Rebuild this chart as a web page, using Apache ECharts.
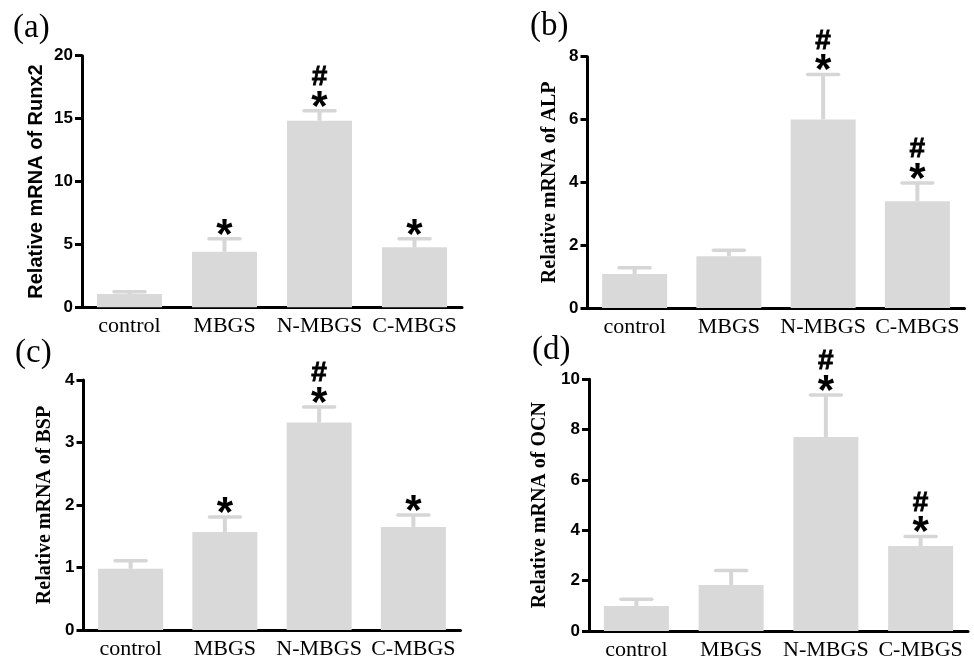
<!DOCTYPE html>
<html>
<head>
<meta charset="utf-8">
<script src="https://cdn.jsdelivr.net/npm/echarts@6/dist/echarts.min.js"></script>
<style>
html,body{margin:0;padding:0;background:#fff;}
#chart{width:974px;height:661px;}
</style>
</head>
<body>
<div id="chart"></div>
<script>
// ---- data ----
const categories = ['control', 'MBGS', 'N-MBGS', 'C-MBGS'];

const runx2Values = [1.05, 4.42, 14.83, 4.77];
const runx2Errors = [0.18, 1.03, 0.80, 0.68];
const runx2Marks  = ['', '*', '*#', '*'];

const alpValues = [1.08, 1.65, 6.00, 3.40];
const alpErrors = [0.20, 0.19, 1.43, 0.58];
const alpMarks  = ['', '', '*#', '*#'];

const bspValues = [0.98, 1.57, 3.32, 1.65];
const bspErrors = [0.13, 0.24, 0.25, 0.19];
const bspMarks  = ['', '*', '*#', '*'];

const ocnValues = [0.99, 1.83, 7.71, 3.38];
const ocnErrors = [0.27, 0.57, 1.67, 0.37];
const ocnMarks  = ['', '', '*#', '*#'];

const yTitles = ['Relative mRNA of Runx2', 'Relative mRNA of ALP', 'Relative mRNA of BSP', 'Relative mRNA of OCN'];
const yMax = [20, 8, 4, 10];
const yInterval = [5, 2, 1, 2];
const panelLabels = ['(a)', '(b)', '(c)', '(d)'];

// ---- layout / style ----
const SANS = '"Liberation Sans", Arial, sans-serif';
const SERIF = '"Liberation Serif", "Times New Roman", serif';
const BAR = '#d9d9d9';
const ERR = '#d6d6d6';

const grids = [
  {left: 82,    top: 55.7,  width: 380, height: 251.6},
  {left: 587.5, top: 56.7,  width: 377, height: 251.3},
  {left: 83.5,  top: 380,   width: 377, height: 250},
  {left: 589,   top: 379.3, width: 379, height: 251.7}
];
const nameGaps = [36, 27.5, 29, 39];
const titleFonts = [SANS, SERIF, SERIF, SERIF];
const labelPos = [[13, 12], [530, 10], [15, 337], [532, 334]];

const panels = [
  {values: runx2Values, errors: runx2Errors, marks: runx2Marks},
  {values: alpValues, errors: alpErrors, marks: alpMarks},
  {values: bspValues, errors: bspErrors, marks: bspMarks},
  {values: ocnValues, errors: ocnErrors, marks: ocnMarks}
];

function makeRenderer(marks) {
  return function (params, api) {
    const i = api.value(0), v = api.value(1), e = api.value(2);
    const top = api.coord([i, v]);
    const cap = api.coord([i, v + e]);
    const children = [
      {type: 'line', shape: {x1: top[0], y1: top[1], x2: cap[0], y2: cap[1]},
       style: {stroke: ERR, lineWidth: 4}},
      {type: 'line', shape: {x1: cap[0] - 15.5, y1: cap[1], x2: cap[0] + 15.5, y2: cap[1]},
       style: {stroke: ERR, lineWidth: 3.5, lineCap: 'round'}}
    ];
    const m = marks[i];
    if (m.indexOf('*') >= 0) {
      children.push({type: 'text', style: {text: '*', x: cap[0], y: cap[1] - 12.7 + 10,
        align: 'center', verticalAlign: 'middle', font: 'bold 42px ' + SANS, fill: '#000'}});
    }
    if (m.indexOf('#') >= 0) {
      children.push({type: 'text', style: {text: '#', x: cap[0], y: cap[1] - 33.5,
        align: 'center', verticalAlign: 'middle', font: 'bold 28px ' + SANS, fill: '#000',
        stroke: '#000', lineWidth: 0.8}});
    }
    return {type: 'group', children: children};
  };
}

const option = {
  backgroundColor: '#fff',
  animation: false,
  title: panelLabels.map((t, k) => ({
    text: t, left: labelPos[k][0], top: labelPos[k][1], padding: 0,
    textStyle: {fontFamily: SERIF, fontWeight: 'normal', fontSize: 33, color: '#000'}
  })),
  grid: grids,
  xAxis: grids.map((g, k) => ({
    type: 'category', gridIndex: k, data: categories,
    axisLine: {lineStyle: {color: '#000', width: 3}},
    axisTick: {show: false},
    axisLabel: {interval: 0, margin: 8, color: '#000', fontFamily: SERIF, fontSize: 22}
  })),
  yAxis: grids.map((g, k) => ({
    type: 'value', gridIndex: k, min: 0, max: yMax[k], interval: yInterval[k],
    name: yTitles[k], nameLocation: 'middle', nameGap: nameGaps[k],
    nameTextStyle: {fontFamily: titleFonts[k], fontWeight: 'bold', fontSize: 20, color: '#000'},
    axisLine: {show: true, lineStyle: {color: '#000', width: 3}},
    axisTick: {show: true, length: 7, lineStyle: {color: '#000', width: 3}},
    axisLabel: {margin: 9, color: '#000', fontFamily: SANS, fontWeight: 'bold', fontSize: 17},
    splitLine: {show: false}
  })),
  series: []
};

panels.forEach((p, k) => {
  option.series.push({
    type: 'bar', xAxisIndex: k, yAxisIndex: k, data: p.values,
    barWidth: 65, itemStyle: {color: BAR}, z: 2
  });
  option.series.push({
    type: 'custom', xAxisIndex: k, yAxisIndex: k,
    data: p.values.map((v, i) => [i, v, p.errors[i]]),
    encode: {x: 0, y: 1},
    renderItem: makeRenderer(p.marks), z: 3
  });
});

const chart = echarts.init(document.getElementById('chart'), null, {renderer: 'canvas'});
chart.setOption(option);
</script>
</body>
</html>
